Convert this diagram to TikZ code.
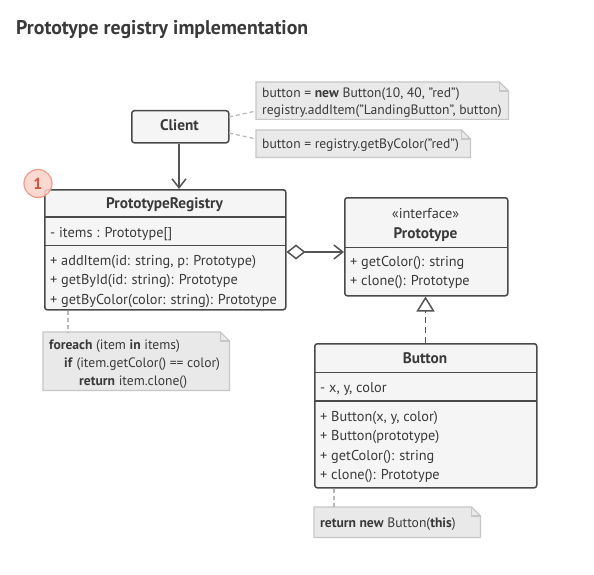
\documentclass[tikz,border=0pt]{standalone}
\usepackage{fontspec}
\setmainfont{PT Sans}
\usetikzlibrary{arrows.meta}
\definecolor{ink}{HTML}{3A3A3A}
\definecolor{boxline}{HTML}{4A4A4A}
\definecolor{boxfill}{HTML}{F5F5F5}
\definecolor{notefill}{HTML}{E9E9E9}
\definecolor{noteline}{HTML}{C6C6C6}
\definecolor{dashc}{HTML}{B8B8B8}
\definecolor{arrowc}{HTML}{555555}
\definecolor{badgefill}{HTML}{FBD3C9}
\definecolor{badgeline}{HTML}{F19A86}
\definecolor{badgetext}{HTML}{D2503E}
\tikzset{
  umlbox/.style={draw=boxline, line width=1.5pt, fill=boxfill, rounded corners=2.5pt, rectangle, inner sep=0pt, anchor=north west},
  sepline/.style={draw=boxline, line width=1.5pt},
  notenode/.style={rectangle, inner sep=0pt, anchor=north west},
  noteshape/.style={draw=noteline, fill=notefill, line width=1.2pt},
  txt/.style={inner sep=0pt, anchor=base west, text=ink, font=\fontsize{14.3}{17}\selectfont},
  ntxt/.style={inner sep=0pt, anchor=base west, text=ink, font=\fontsize{13.6}{16}\selectfont},
  ctxt/.style={inner sep=0pt, anchor=base, text=ink, font=\fontsize{15.3}{18}\selectfont\bfseries},
  dashconn/.style={draw=dashc, line width=1.2pt, dash pattern=on 4pt off 3pt},
  assoc/.style={draw=arrowc, line width=1.5pt, -{Straight Barb[length=9pt,width=14pt,line width=1.5pt]}},
}
\begin{document}
\begin{tikzpicture}[x=1pt,y=-1pt]
\useasboundingbox (0,0) rectangle (594,575);
\fill[white] (0,0) rectangle (594,575);
% title
\node[inner sep=0pt, anchor=base west, text=ink, font=\fontsize{19.8}{22}\selectfont\bfseries] (title) at (16,35) {Prototype registry implementation};

% Client
\node[umlbox, minimum width=97pt, minimum height=32pt] (client) at (131,110) {};
\node[ctxt] (clientt) at (179.5,131) {Client};

% notes near client
\node[notenode, minimum width=252pt, minimum height=37pt] (n1) at (256,82) {};
\draw[noteshape] (n1.north west) -- ([xshift=-9pt]n1.north east) -- ([yshift=-9pt]n1.north east) -- (n1.south east) -- (n1.south west) -- cycle;
\draw[noteshape, fill=none] ([xshift=-9pt]n1.north east) -- ([xshift=-9pt,yshift=-9pt]n1.north east) -- ([yshift=-9pt]n1.north east);
\node[ntxt] (n1a) at (262,98) {button = \textbf{new} Button(10, 40, "red")};
\node[ntxt] (n1b) at (262,114) {registry.addItem("LandingButton", button)};

\node[notenode, minimum width=214pt, minimum height=27pt] (n2) at (256,130) {};
\draw[noteshape] (n2.north west) -- ([xshift=-9pt]n2.north east) -- ([yshift=-9pt]n2.north east) -- (n2.south east) -- (n2.south west) -- cycle;
\draw[noteshape, fill=none] ([xshift=-9pt]n2.north east) -- ([xshift=-9pt,yshift=-9pt]n2.north east) -- ([yshift=-9pt]n2.north east);
\node[ntxt] (n2a) at (262,148) {button = registry.getByColor("red")};

\coordinate (c1) at (229,117);
\coordinate (c2) at (229,133);
\draw[dashconn] (c1) -- (n1.west |- 0,111);
\draw[dashconn] (c2) -- (n2.west |- 0,139);

% PrototypeRegistry
\node[umlbox, minimum width=241pt, minimum height=120pt] (reg) at (44,189) {};
\draw[sepline] (44,217) -- (285,217);
\draw[sepline] (44,245.5) -- (285,245.5);
\node[ctxt] (regt) at (164.5,208.5) {PrototypeRegistry};
\node[txt] (rega) at (50,237) {- items : Prototype[]};
\node[txt] (regm1) at (50,265) {+ addItem(id: string, p: Prototype)};
\node[txt] (regm2) at (50,284.5) {+ getById(id: string): Prototype};
\node[txt] (regm3) at (50,304) {+ getByColor(color: string): Prototype};

% client -> registry
\draw[assoc] (client.south -| 179,0) -- (reg.north -| 179,0);

% badge
\node[circle, draw=badgeline, line width=1.2pt, fill=badgefill, fill opacity=0.85, text opacity=1, minimum size=28pt, inner sep=0pt, text=badgetext, font=\fontsize{16}{17}\selectfont\bfseries] (badge) at (38,183.5) {1};

% Prototype interface
\node[umlbox, minimum width=163pt, minimum height=98pt] (proto) at (344,197) {};
\draw[sepline] (344,247.5) -- (507,247.5);
\node[inner sep=0pt, anchor=base, text=ink, font=\fontsize{14.3}{17}\selectfont] (protos) at (425.5,218) {«interface»};
\node[ctxt] (protot) at (425.5,238.5) {Prototype};
\node[txt] (protom1) at (350,266) {+ getColor(): string};
\node[txt] (protom2) at (350,285.5) {+ clone(): Prototype};

% aggregation
\draw[draw=arrowc, line width=1.5pt, {Diamond[open,length=19pt,width=15pt,line width=1.5pt]}-{Straight Barb[length=9pt,width=14pt,line width=1.5pt]}] (reg.east |- 0,252) -- (proto.west |- 0,252);

% Button
\node[umlbox, minimum width=222pt, minimum height=144pt] (btn) at (314,343) {};
\draw[sepline] (314,372.5) -- (536,372.5);
\draw[sepline] (314,401) -- (536,401);
\node[ctxt] (btnt) at (425,363) {Button};
\node[txt] (btna) at (320,392) {- x, y, color};
\node[txt] (btnm1) at (320,421) {+ Button(x, y, color)};
\node[txt] (btnm2) at (320,440.5) {+ Button(prototype)};
\node[txt] (btnm3) at (320,460) {+ getColor(): string};
\node[txt] (btnm4) at (320,479.5) {+ clone(): Prototype};

% realization
\draw[draw=arrowc, line width=1.5pt, dash pattern=on 6pt off 4pt, -{Triangle[open,length=15pt,width=18pt,line width=1.5pt]}] (btn.north -| 425.5,0) -- (proto.south -| 425.5,0);

% foreach note
\node[notenode, minimum width=186pt, minimum height=58pt] (n3) at (43,332) {};
\draw[noteshape] (n3.north west) -- ([xshift=-9pt]n3.north east) -- ([yshift=-9pt]n3.north east) -- (n3.south east) -- (n3.south west) -- cycle;
\draw[noteshape, fill=none] ([xshift=-9pt]n3.north east) -- ([xshift=-9pt,yshift=-9pt]n3.north east) -- ([yshift=-9pt]n3.north east);
\node[ntxt] (n3a) at (49,349) {\textbf{foreach} (item \textbf{in} items)};
\node[ntxt] (n3b) at (64,367) {\textbf{if} (item.getColor() == color)};
\node[ntxt] (n3c) at (79,385) {\textbf{return} item.clone()};
\draw[dashconn] (reg.south -| 68,0) -- (n3.north -| 68,0);

% return note
\node[notenode, minimum width=166pt, minimum height=30pt] (n4) at (314,507) {};
\draw[noteshape] (n4.north west) -- ([xshift=-9pt]n4.north east) -- ([yshift=-9pt]n4.north east) -- (n4.south east) -- (n4.south west) -- cycle;
\draw[noteshape, fill=none] ([xshift=-9pt]n4.north east) -- ([xshift=-9pt,yshift=-9pt]n4.north east) -- ([yshift=-9pt]n4.north east);
\node[ntxt] (n4a) at (320,527) {\textbf{return new} Button(\textbf{this})};
\draw[dashconn] (btn.south -| 334,0) -- (n4.north -| 334,0);
\end{tikzpicture}
\end{document}
